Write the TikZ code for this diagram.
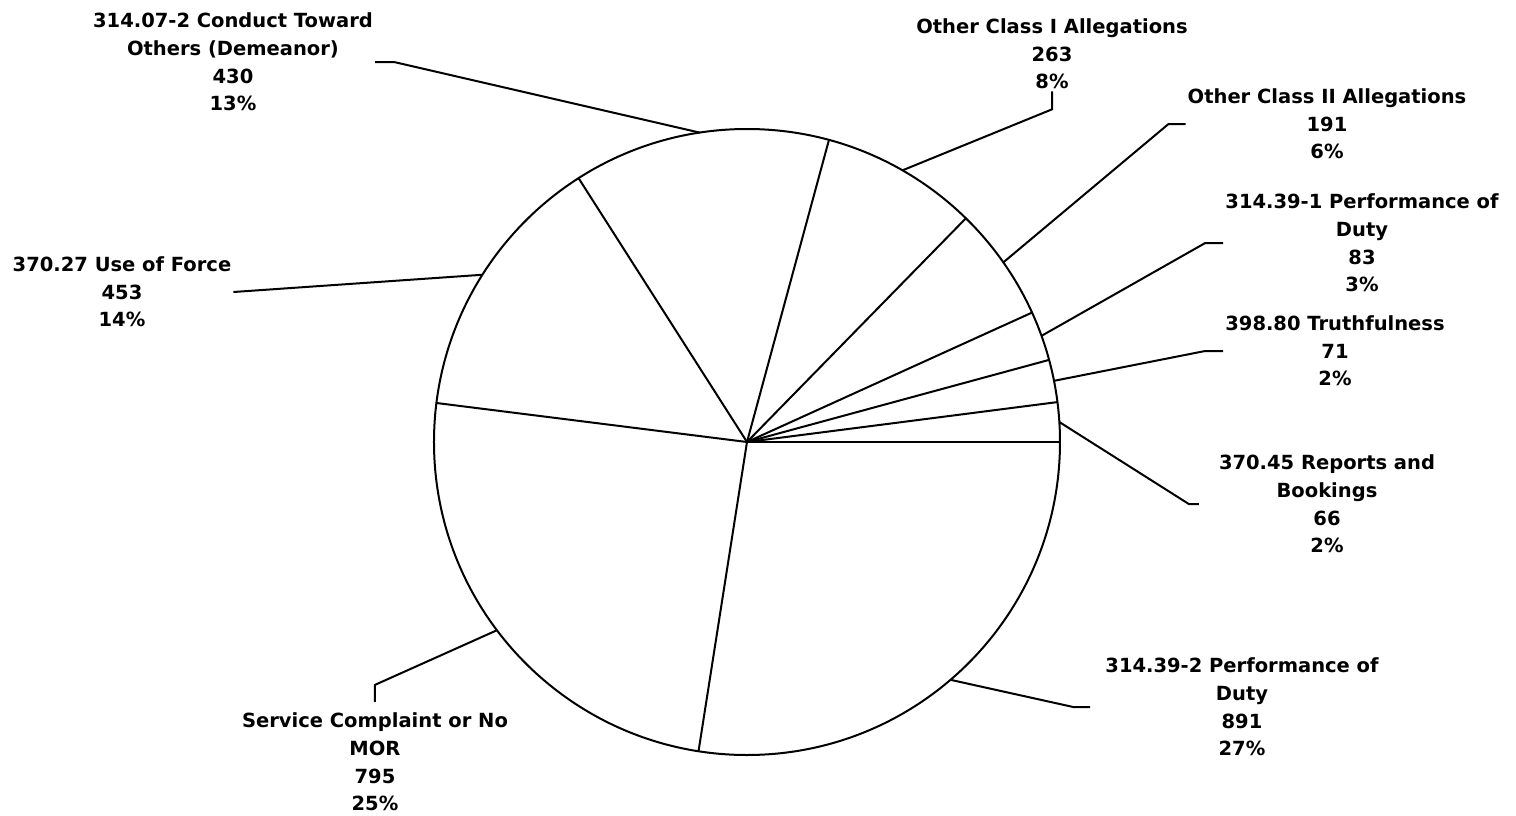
\documentclass[tikz,border=0pt]{standalone}
\usepackage{fontspec}
\setmainfont{DejaVu Sans}
\usetikzlibrary{calc}

\begin{document}
\begin{tikzpicture}[
  x=1pt, y=1pt,
  font=\fontsize{19.5}{27.6}\selectfont\bfseries,
  slice/.style={draw=black, line width=2pt},
  leader/.style={draw=black, line width=2pt},
  lbl/.style={align=center, inner sep=2pt}
]
\useasboundingbox (-747,-373) rectangle (769,442);

% pie
\coordinate (c) at (0,0);
\draw[slice] (c) circle (313);
\foreach \a in {0,7.327,15.208,24.422,45.624,74.819,122.553,172.840,261.091}
  \draw[slice] (c) -- ($(c)+(\a:313)$);

% labels
\node[lbl] (conduct) at (-514,380) {314.07-2 Conduct Toward\\Others (Demeanor)\\430\\13\%};
\node[lbl] (classI) at (305,388) {Other Class I Allegations\\263\\8\%};
\node[lbl] (classII) at (580,318) {Other Class II Allegations\\191\\6\%};
\node[lbl] (perfI) at (615,199) {314.39-1 Performance of\\Duty\\83\\3\%};
\node[lbl] (truth) at (588,91) {398.80 Truthfulness\\71\\2\%};
\node[lbl] (reports) at (580,-62) {370.45 Reports and\\Bookings\\66\\2\%};
\node[lbl] (perfII) at (495,-265) {314.39-2 Performance of\\Duty\\891\\27\%};
\node[lbl] (service) at (-372,-320) {Service Complaint or No\\MOR\\795\\25\%};
\node[lbl] (force) at (-625,150) {370.27 Use of Force\\453\\14\%};

% leaders
\draw[leader] (conduct.east) -- ++(19,0) -- ($(c)+(98.69:313)$);
\draw[leader] (classI.south) -- ++(0,-18) -- ($(c)+(60.22:313)$);
\draw[leader] (classII.west) -- ++(-17,0) -- ($(c)+(35.02:313)$);
\draw[leader] (perfI.west) -- ++(-18,0) -- ($(c)+(19.82:313)$);
\draw[leader] (truth.west) -- ++(-18,0) -- ($(c)+(11.27:313)$);
\draw[leader] ([xshift=-18]reports.west) -- ++(-10,0) -- ($(c)+(3.66:313)$);
\draw[leader] ([xshift=-13]perfII.west) -- ++(-17,0) -- ($(c)+(310.55:313)$);
\draw[leader] ([yshift=9]service.north) -- ++(0,17) -- ($(c)+(216.97:313)$);
\draw[leader] (force.east) -- ($(c)+(147.70:313)$);

\end{tikzpicture}
\end{document}
